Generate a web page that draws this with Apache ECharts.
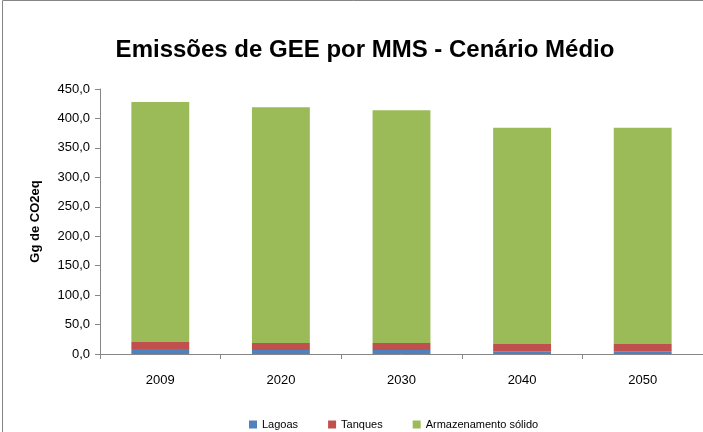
<!DOCTYPE html>
<html>
<head>
  <meta charset="utf-8">
  <title>Emissões de GEE por MMS</title>
  <script src="https://cdn.jsdelivr.net/npm/echarts@6/dist/echarts.min.js"></script>
  <style>
    html, body { margin: 0; padding: 0; background: #fff; }
    #chart { width: 703px; height: 432px; }
  </style>
</head>
<body>
  <div id="chart"></div>
  <script>
    // dados
    var anos = ['2009', '2020', '2030', '2040', '2050'];
    var lagoas = [8.5, 7.0, 7.0, 4.5, 4.5];
    var tanques = [12.0, 11.5, 11.5, 12.5, 12.5];
    var armazenamento = [407.5, 400.5, 395.5, 367.0, 367.0];

    var fonte = '"Liberation Sans", "DejaVu Sans", sans-serif';
    var chart = echarts.init(document.getElementById('chart'));

    function serie(nome, dados, cor) {
      return {
        name: nome,
        type: 'bar',
        stack: 'total',
        barWidth: '48%',
        itemStyle: { color: cor },
        data: dados
      };
    }

    chart.setOption({
      animation: false,
      title: {
        text: 'Emissões de GEE por MMS - Cenário Médio',
        left: 360,
        textAlign: 'center',
        top: 33,
        textStyle: { fontFamily: fonte, fontSize: 24, fontWeight: 'bold', color: '#000' }
      },
      graphic: [{
        type: 'rect',
        shape: { x: 2.5, y: 0.5, width: 720, height: 440 },
        style: { fill: 'none', stroke: '#868686', lineWidth: 1 }
      }],
      legend: {
        top: 414,
        left: 244,
        itemWidth: 8,
        itemHeight: 8,
        itemGap: 30,
        icon: 'rect',
        textStyle: { fontFamily: fonte, fontSize: 11, color: '#000' },
        data: ['Lagoas', 'Tanques', 'Armazenamento sólido']
      },
      grid: { left: 100, right: 0, top: 89, bottom: 78 },
      xAxis: {
        type: 'category',
        data: anos,
        axisLine: { lineStyle: { color: '#868686' } },
        axisTick: { show: true, length: 5, lineStyle: { color: '#868686' } },
        axisLabel: { fontFamily: fonte, fontSize: 13, color: '#000', margin: 20 }
      },
      yAxis: {
        type: 'value',
        min: 0,
        max: 450,
        interval: 50,
        name: 'Gg de CO2eq',
        nameLocation: 'middle',
        nameGap: 58,
        nameTextStyle: { fontFamily: fonte, fontSize: 13, fontWeight: 'bold', color: '#000' },
        axisLine: { show: true, lineStyle: { color: '#868686' } },
        axisTick: { show: true, length: 5, lineStyle: { color: '#868686' } },
        splitLine: { show: false },
        axisLabel: {
          fontFamily: fonte, fontSize: 13, color: '#000', margin: 10,
          formatter: function (v) { return v.toFixed(1).replace('.', ','); }
        }
      },
      series: [
        serie('Lagoas', lagoas, '#4F81BD'),
        serie('Tanques', tanques, '#C0504D'),
        serie('Armazenamento sólido', armazenamento, '#9BBB59')
      ]
    });
  </script>
</body>
</html>
